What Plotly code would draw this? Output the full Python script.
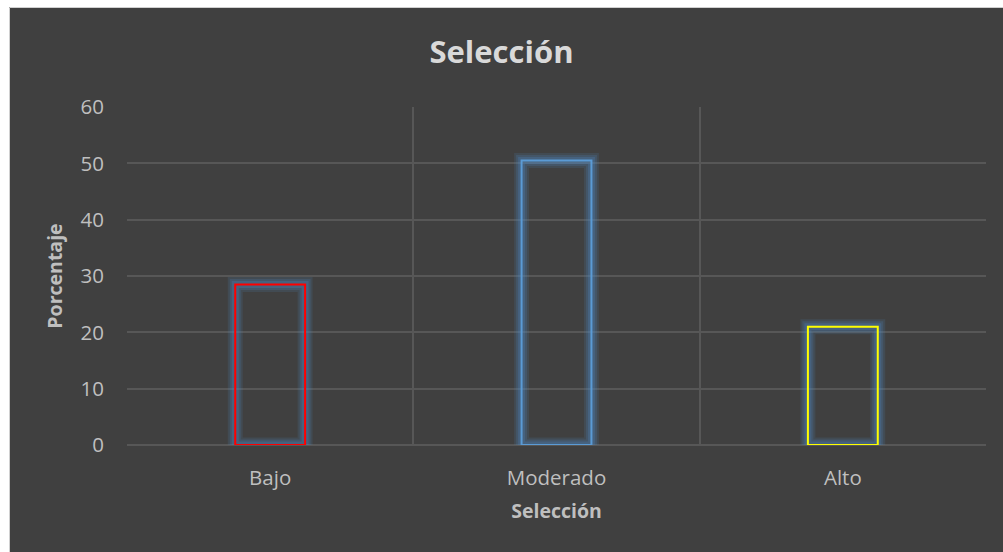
import plotly.graph_objects as go

# Distribución porcentual por nivel de selección
categorias = ["Bajo", "Moderado", "Alto"]
porcentajes = [28.5, 50.5, 21.0]
colores_borde = ["#FF0000", "#5B9BD5", "#FFFF00"]
ticks_y = [0, 10, 20, 30, 40, 50, 60]

FONDO = "#404040"
GRID = "#575757"
TEXTO = "#BFBFBF"
FUENTE = "Open Sans"
ANCHO_BARRA = 0.244

fig = go.Figure()

# Halo azulado alrededor de cada barra (capas de trazo semitransparente)
for ancho, alfa in [(15, 0.14), (11, 0.18), (7, 0.24)]:
    fig.add_trace(go.Bar(
        x=categorias, y=porcentajes, width=ANCHO_BARRA,
        marker=dict(color="rgba(0,0,0,0)",
                    line=dict(color=f"rgba(80,140,200,{alfa})", width=ancho)),
        cliponaxis=False, hoverinfo="skip", showlegend=False,
    ))

# Barras huecas con borde de color
fig.add_trace(go.Bar(
    x=categorias, y=porcentajes, width=ANCHO_BARRA,
    marker=dict(color="rgba(0,0,0,0)",
                line=dict(color=colores_borde, width=2)),
    cliponaxis=False, showlegend=False,
))

L, R, T, B = 127, 17, 107, 107
W, H = 1003, 552
pw, ph = W - L - R, H - T - B

def px_x(p):
    return (p - L) / pw

def px_y(p):
    return (H - B - p) / ph

fig.update_layout(
    width=W, height=H,
    margin=dict(l=L, r=R, t=T, b=B, autoexpand=False),
    paper_bgcolor=FONDO, plot_bgcolor=FONDO,
    barmode="overlay",
    title=dict(text="<b>Selección</b>", x=0.5, xanchor="center",
               y=1 - 52 / H, yanchor="middle",
               font=dict(family=FUENTE, size=31, color="#D9D9D9")),
    xaxis=dict(
        type="category", range=[-0.5, 2.5], tickson="boundaries",
        showgrid=True, gridcolor=GRID, gridwidth=1.5,
        showline=False, zeroline=False, ticks="", ticklen=0,
        ticklabelstandoff=18,
        tickfont=dict(family=FUENTE, size=20.5, color=TEXTO),
        title=dict(text="<b>Selección</b>", standoff=14,
                   font=dict(family=FUENTE, size=19.5, color=TEXTO)),
    ),
    yaxis=dict(
        range=[0, 60], tickvals=ticks_y,
        showgrid=True, gridcolor=GRID, gridwidth=1.5,
        zeroline=True, zerolinecolor=GRID, zerolinewidth=1.5,
        ticks="", ticklabelstandoff=22,
        tickfont=dict(family=FUENTE, size=20.5, color=TEXTO),
        title=dict(text="<b>Porcentaje</b>", standoff=12,
                   font=dict(family=FUENTE, size=19.5, color=TEXTO)),
    ),
    shapes=[
        # Marco blanco exterior (izquierda y arriba)
        dict(type="rect", xref="paper", yref="paper", layer="above",
             x0=px_x(-2), x1=px_x(9), y0=px_y(H + 2), y1=px_y(-2),
             fillcolor="white", line=dict(width=0)),
        dict(type="rect", xref="paper", yref="paper", layer="above",
             x0=px_x(-2), x1=px_x(W + 2), y0=px_y(7), y1=px_y(-2),
             fillcolor="white", line=dict(width=0)),
        dict(type="line", xref="paper", yref="paper", layer="above",
             x0=px_x(9.5), x1=px_x(9.5), y0=px_y(H + 2), y1=px_y(7.5),
             line=dict(color="#D0D0D0", width=1)),
        dict(type="line", xref="paper", yref="paper", layer="above",
             x0=px_x(9.5), x1=px_x(W + 2), y0=px_y(7.5), y1=px_y(7.5),
             line=dict(color="#D0D0D0", width=1)),
    ],
)

fig.write_html("out.html")
